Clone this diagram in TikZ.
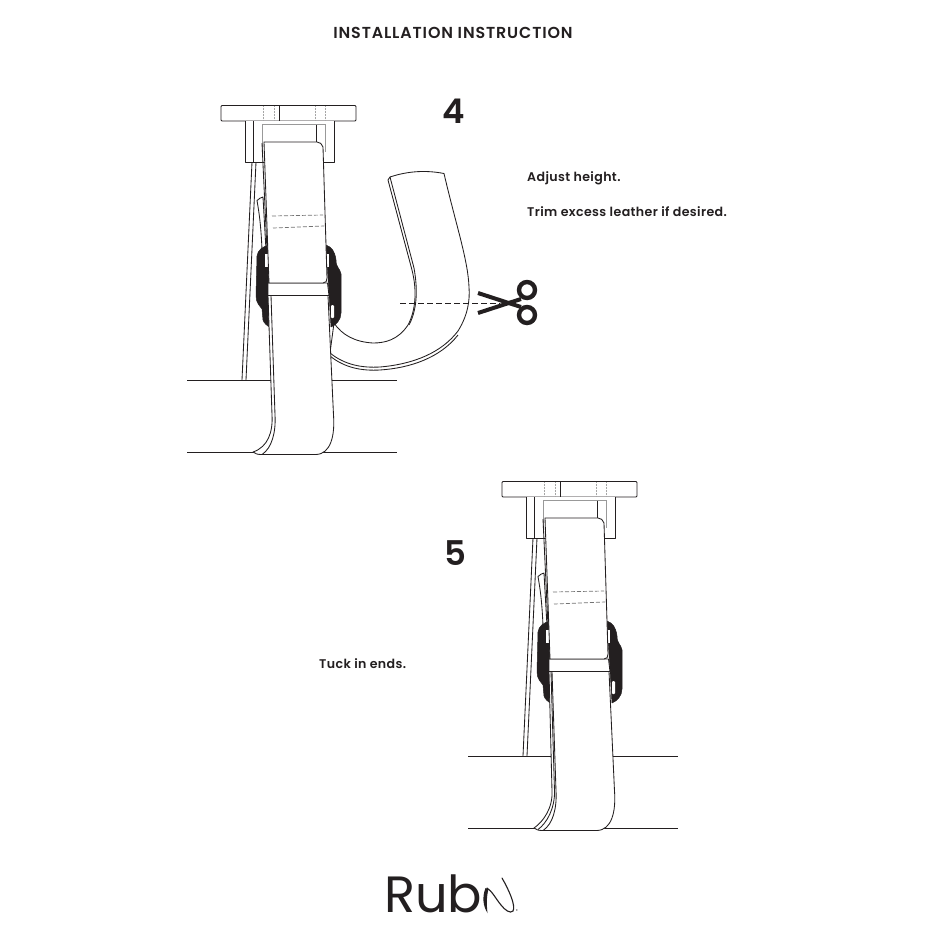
\documentclass[tikz,border=0pt]{standalone}
\usepackage{fontspec}
\setmainfont{Poppins}
\newfontfamily\logofont{Poppins}
\newfontfamily\semifont[LetterSpace=3]{Poppins SemiBold}
\newfontfamily\titlefont[LetterSpace=5.5]{Poppins SemiBold}
\newfontfamily\numfont{Poppins SemiBold}
\definecolor{ink}{HTML}{231F20}
\tikzset{
  ln/.style={draw=ink,line width=0.85pt,line join=round},
  fl/.style={ln,fill=white},
  thin ln/.style={draw=gray!80,line width=0.6pt},
  dot ln/.style={draw=gray!70,line width=0.5pt,densely dotted},
  dash ln/.style={draw=gray!90!black,line width=0.7pt,dash pattern=on 4pt off 2pt},
  buckle/.style={fill=ink,draw=ink,line width=0.5pt,line join=round},
  slot/.style={fill=white,draw=none},
  lab/.style={anchor=west,inner sep=0pt,font=\semifont\fontsize{12.6}{15}\selectfont,text=ink},
  num/.style={inner sep=0pt,font=\numfont\fontsize{34}{40}\selectfont,text=ink},
}
\newcommand{\assembly}[1]{%
  % legs
  \draw[ln] (252,162) -- (242,380);
  \draw[ln] (256,162) -- (246,380);
  % surface
  \draw[ln] (187,380) -- (397,380);
  \draw[ln] (187,452) -- (397,452);
  % plate
  \draw[fl,rounded corners=1pt] (221,105.5) rectangle (356,121);
  \draw[ln] (279,105.5) -- (279,121);
  \foreach \xx in {263,274,315,325} \draw[dot ln] (\xx,106) -- (\xx,121);
  % bracket
  \draw[fl] (245,121) -- (245,162.5) -- (334,162.5) -- (334,121);
  \draw[ln] (253,121) -- (253,162.5);
  \draw[thin ln] (262,155) -- (262,124.5) -- (325.5,124.5) -- (325.5,152);
  \draw[ln] (316,124.5) -- (316,142);
  % tuft and back strap
  \draw[fl] (257,200.5) .. controls (259,198) and (261,198) .. (263,197) -- (266,250) -- (262,250)
     .. controls (261,225) and (259,212) .. (257,200.5) -- cycle;
  \draw[ln] (262,143) -- (267,250);
  % buckle
  \draw[buckle] (269,245) .. controls (262,247) and (258,250) .. (257,256)
     -- (256,296) .. controls (256,303) and (260,306) .. (262,309)
     -- (263,320) .. controls (264,323) and (267,326) .. (270,327) -- cycle;
  \draw[slot] (265,254) rectangle (268.5,267);
  \draw[buckle] (326,245) .. controls (332,247) and (335,252) .. (336,260)
     .. controls (336,268) and (340,268) .. (341,274)
     -- (341,313) .. controls (341,320) and (336,325) .. (331,327) -- cycle;
  \draw[slot] (327,254) rectangle (329,267);
  \draw[slot,rounded corners=1pt] (331,305) rectangle (334,318);
  % band
  \draw[fl] (268,283) -- (327.5,283) -- (329,295.5) -- (268,295.5) -- cycle;
  % upper strap
  \draw[fl] (264,142) -- (317,142) .. controls (320,142) and (322,144) .. (323,147)
     -- (327,278) .. controls (327,281) and (326,283) .. (323,283) -- (269,283) -- cycle;
  \draw[dash ln] (272,216) -- (323,215);
  \draw[dash ln] (273,228) -- (324,226);
  % lower strap layers
  #1
  \draw[fl] (271,295.5) -- (328,295.5) -- (333.5,415)
     .. controls (335,435) and (331,454) .. (316,454.5) -- (262,454.5)
     .. controls (272,448) and (276,432) .. (275,415) -- cycle;
}
\begin{document}
\begin{tikzpicture}[x=1pt,y=-1pt]
\useasboundingbox (0,0) rectangle (930,930);
\fill[white] (0,0) rectangle (930,930);

\node[inner sep=0pt,text=ink,font=\titlefont\fontsize{15.9}{18}\selectfont] (title) at (453,33) {INSTALLATION INSTRUCTION};
\node[num] (four) at (453.5,111) {4};
\node[num] (five) at (455.5,553.5) {5};
\node[lab] (adj) at (527,177.8) {Adjust height.};
\node[lab] (trim) at (527,211.8) {Trim excess leather if desired.};
\node[lab] (tuck) at (319,663.8) {Tuck in ends.};

% tail of the strap in step 4
\draw[ln] (330,356) .. controls (345,368) and (362,371) .. (380,370)
   .. controls (410,368) and (440,358) .. (458,335);
\draw[fl] (330,353) .. controls (345,365) and (362,368) .. (380,367)
   .. controls (415,364) and (442,352) .. (458,331)
   .. controls (468,315) and (470,300) .. (469,287)
   .. controls (468,260) and (456,225) .. (444,173.5)
   .. controls (426,170) and (408,171) .. (390,177)
   -- (388,180) -- (412,270)
   .. controls (417,290) and (416,310) .. (408,325)
   .. controls (398,340) and (385,343) .. (373,343)
   .. controls (355,342) and (342,335) .. (334,323) -- cycle;
\draw[ln] (390,177) -- (414,268) .. controls (418,290) and (417,310) .. (409,325);
% cut line and scissors
\coordinate (cutA) at (400,303);
\coordinate (cutB) at (500,303);
\draw[draw=ink,line width=0.8pt,dash pattern=on 6pt off 3pt] (cutA) -- (cutB);
\draw[draw=ink,line width=4pt] (478,293) -- (521,307);
\draw[draw=ink,line width=4pt] (478,313) -- (521,299);
\draw[draw=ink,line width=4.4pt] (527,290) circle (8);
\draw[draw=ink,line width=4.4pt] (527,315) circle (8);

\assembly{\draw[fl] (268,295.5) -- (272,415) .. controls (273,432) and (268,447) .. (253,452)
    .. controls (255,454) and (258,454.5) .. (262,454.5) -- (300,454.5) -- (300,295.5) -- cycle;}

\begin{scope}[shift={(281,376)}]
\assembly{\draw[fl] (268,295.5) -- (271,415) .. controls (272,432) and (262,446) .. (253,452)
    .. controls (255,454) and (258,454.5) .. (262,454.5) -- (300,454.5) -- (300,295.5) -- cycle;
  \draw[ln] (270,295.5) -- (273.5,415) .. controls (274,432) and (266,447) .. (257,453.5);}
\end{scope}

% logo
\node[anchor=base west,inner sep=0pt,text=ink,font=\logofont\fontsize{51}{55}\selectfont] (rub) at (384,912) {Rub};
\fill[ink] (485.5,888) .. controls (482,897) and (483,906) .. (487.5,913)
   .. controls (486.5,905) and (486.5,896) .. (488.5,889) -- cycle;
\draw[draw=ink,line width=1.1pt,line cap=round] (487,888) .. controls (492,891) and (496,899) .. (501,905)
   .. controls (505,910) and (510,914) .. (513,911)
   .. controls (516,906) and (509,890) .. (502,878);
\node[inner sep=0pt,text=ink,font=\fontsize{4}{4}\selectfont] (reg) at (517,911) {®};
\end{tikzpicture}
\end{document}
